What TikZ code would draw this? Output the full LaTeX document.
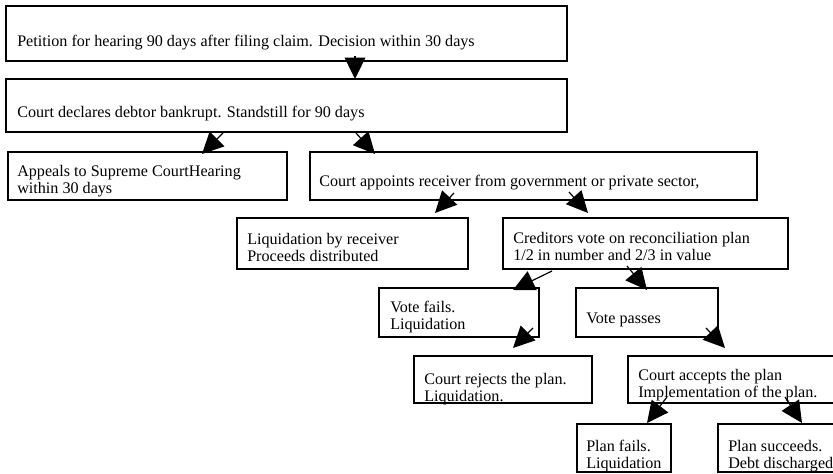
\documentclass[tikz,border=0pt]{standalone}
\usepackage{fontspec}
\setmainfont{Liberation Serif}
\usetikzlibrary{arrows.meta}
\tikzset{
  box/.style={draw, line width=1pt, rectangle, inner sep=0pt, outer sep=0pt, anchor=north west},
  txt/.style={inner sep=0pt, anchor=base west, font=\fontsize{12.1}{12.75}\selectfont},
  conn/.style={line width=0.9pt, -{Triangle[length=16pt,width=15.5pt]}},
}
% a framed box given by its corner coordinates (left, top, right, bottom)
\newcommand\flowbox[5]{\node[box, minimum width={(#4-#2)*0.75pt}, minimum height={(#5-#3)*0.75pt}] (#1) at (#2,#3) {};}
\newcommand\twolines[2]{\begin{tabular}[t]{@{}l@{}}#1\\#2\end{tabular}}
\begin{document}
\begin{tikzpicture}[x=0.75pt, y=-0.75pt]
\useasboundingbox (0,0) rectangle (833,474);
\clip (0,0) rectangle (833,474);

% boxes
\flowbox{petition}{6}{6}{567}{61}
\flowbox{declares}{6}{79}{567}{132}
\flowbox{appeals}{8}{152}{287}{200}
\flowbox{receiver}{310}{152}{757}{200}
\flowbox{liquid}{237}{218}{468}{269}
\flowbox{vote}{503}{218}{788}{269}
\flowbox{fails}{379}{288}{539}{337}
\flowbox{passes}{576}{288}{718}{337}
\flowbox{rejects}{414}{356}{592}{403}
\flowbox{accepts}{628}{356}{850}{403}
\flowbox{planfails}{577}{424}{671}{472}
\flowbox{plansucc}{718}{424}{850}{472}

% texts
\node[txt] (tpetition) at (17,47) {Petition for hearing 90 days after filing claim. Decision within 30 days};
\node[txt] (tdeclares) at (17,118) {Court declares debtor bankrupt. Standstill for 90 days};
\node[txt] (tappeals) at (17,177) {\twolines{Appeals to Supreme CourtHearing}{within 30 days}};
\node[txt] (treceiver) at (319,187) {Court appoints receiver from government or private sector,};
\node[txt] (tliquid) at (247,245) {\twolines{Liquidation by receiver}{Proceeds distributed}};
\node[txt] (tvote) at (513,244) {\twolines{Creditors vote on reconciliation plan}{1/2 in number and 2/3 in value}};
\node[txt] (tfails) at (390,313) {\twolines{Vote fails.}{Liquidation}};
\node[txt] (tpasses) at (586,324) {Vote passes};
\node[txt] (trejects) at (424,385) {\twolines{Court rejects the plan.}{Liquidation.}};
\node[txt] (taccepts) at (638,381) {\twolines{Court accepts the plan}{Implementation of the plan.}};
\node[txt] (tplanfails) at (586,451) {\twolines{Plan fails.}{Liquidation}};
\node[txt] (tplansucc) at (728,451) {\twolines{Plan succeeds.}{Debt discharged}};

% connector ends
\coordinate (s1) at (355,56);   \coordinate (e1) at (355,79);
\coordinate (s2) at (223,133);  \coordinate (e2) at (202,154);
\coordinate (s3) at (356,133);  \coordinate (e3) at (375,154);
\coordinate (s4) at (454,193);  \coordinate (e4) at (435,213);
\coordinate (s5) at (569,192);  \coordinate (e5) at (588,213);
\coordinate (s6) at (552,271);  \coordinate (e6) at (513,290);
\coordinate (s7) at (627,266);  \coordinate (e7) at (647,290);
\coordinate (s8) at (533,328);  \coordinate (e8) at (513,348);
\coordinate (s9) at (706,328);  \coordinate (e9) at (725,348);
\coordinate (s10) at (667,397); \coordinate (e10) at (647,423);
\coordinate (s11) at (785,397); \coordinate (e11) at (802,423);

\foreach \i in {1,...,11} { \draw[conn] (s\i) -- (e\i); }
\end{tikzpicture}
\end{document}
